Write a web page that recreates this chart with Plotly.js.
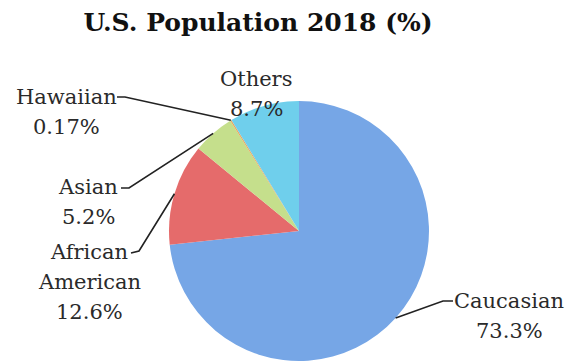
<!DOCTYPE html>
<html>
<head>
<meta charset="utf-8">
<script src="https://cdn.plot.ly/plotly-3.0.1.min.js"></script>
<style>html,body{margin:0;padding:0;background:#fff;}#chart{width:576px;height:363px;}</style>
</head>
<body>
<div id="chart"></div>
<script>
// ---- data ----
var categories = ['Caucasian', 'African American', 'Asian', 'Hawaiian', 'Others'];
var labelLines = [['Caucasian'], ['African', 'American'], ['Asian'], ['Hawaiian'], ['Others']];
var values = [73.3, 12.6, 5.2, 0.17, 8.7];
var valueLabels = ['73.3%', '12.6%', '5.2%', '0.17%', '8.7%'];
var colors = ['#76a6e6', '#e56b6b', '#c5df8c', '#e8a860', '#6fcfec'];

// ---- layout / style settings (pixels) ----
var W = 576, H = 363;
var cx = 299, cy = 231, R = 130;
var labelPos = [
  {x: 509, y: 301, lead: [[453, 301], [443, 301]]},
  {x: 89,  y: 252, lead: [[131, 253], [139, 251]]},
  {x: 88,  y: 187, lead: [[121, 188], [129, 188]]},
  {x: 66,  y: 97,  lead: [[117, 97], [125, 97]]},
  {x: 256, y: 79,  lead: null}
];
var lineStep = 30;
var serif = 'DejaVu Serif';
var labelFont = {family: serif, size: 21, color: '#2a2a2a'};

function px(x) { return x / W; }
function py(y) { return 1 - y / H; }

var total = values.reduce(function (a, b) { return a + b; }, 0);
var annotations = [];
var shapes = [];
var cum = 0;
for (var i = 0; i < values.length; i++) {
  var mid = (cum + values[i] / 2) / total * 2 * Math.PI;
  cum += values[i];
  var tipX = cx + R * Math.sin(mid);
  var tipY = cy - R * Math.cos(mid);
  var lines = labelLines[i].concat([valueLabels[i]]);
  var p = labelPos[i];
  for (var k = 0; k < lines.length; k++) {
    annotations.push({
      text: lines[k], xref: 'paper', yref: 'paper',
      x: px(p.x), y: py(p.y + k * lineStep), xanchor: 'center', yanchor: 'middle',
      showarrow: false, font: labelFont
    });
  }
  if (p.lead) {
    var path = 'M ' + px(p.lead[0][0]) + ',' + py(p.lead[0][1]) +
      ' L ' + px(p.lead[1][0]) + ',' + py(p.lead[1][1]) +
      ' L ' + px(tipX) + ',' + py(tipY);
    shapes.push({type: 'path', xref: 'paper', yref: 'paper', path: path,
      line: {color: '#222', width: 1.6}});
  }
}

var trace = {
  type: 'pie',
  labels: categories,
  values: values,
  sort: false,
  direction: 'clockwise',
  rotation: 0,
  textinfo: 'none',
  hoverinfo: 'label+percent',
  marker: {colors: colors, line: {width: 0}},
  domain: {x: [px(cx - R), px(cx + R)], y: [py(cy + R), py(cy - R)]},
  showlegend: false
};

var layout = {
  width: W, height: H,
  margin: {l: 0, r: 0, t: 0, b: 0},
  paper_bgcolor: '#ffffff',
  font: {family: serif},
  title: {
    text: '<b>U.S. Population 2018 (%)</b>',
    x: px(258), xanchor: 'center', xref: 'paper',
    y: 1 - 22 / H, yanchor: 'middle', yref: 'container',
    font: {family: serif, size: 25, color: '#111'}
  },
  annotations: annotations,
  shapes: shapes,
  showlegend: false
};

Plotly.newPlot('chart', [trace], layout, {displayModeBar: false, staticPlot: true});
</script>
</body>
</html>
